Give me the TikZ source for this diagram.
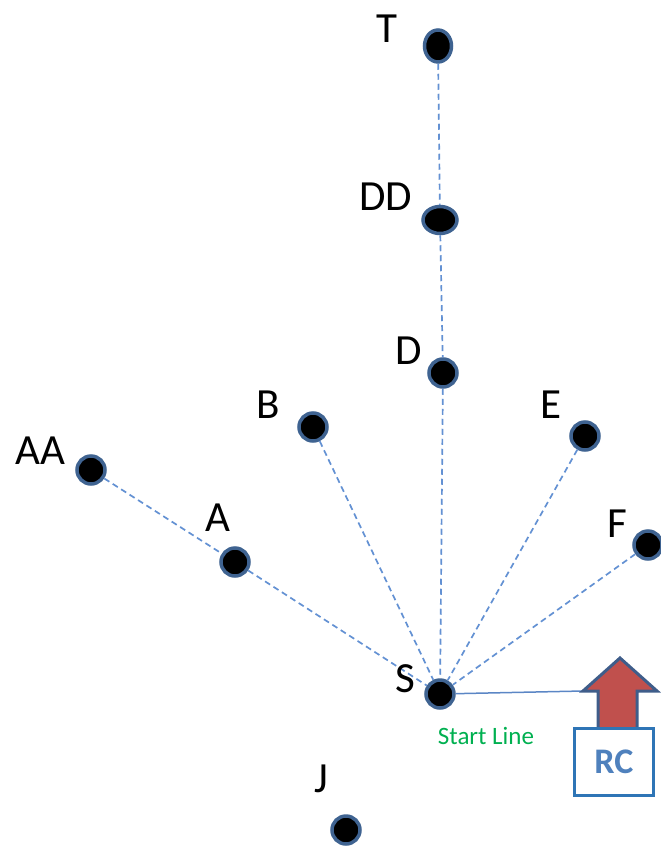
\documentclass[tikz,border=0pt]{standalone}
\usepackage{fontspec}
\setmainfont{Carlito}
\usetikzlibrary{shapes.geometric}
\definecolor{nodeborder}{HTML}{3F6391}
\definecolor{dashblue}{HTML}{6391D3}
\definecolor{lineblue}{HTML}{5B86C5}
\definecolor{startgreen}{HTML}{00B050}
\definecolor{arrowred}{HTML}{C0504D}
\definecolor{arrowborder}{HTML}{3F5D8A}
\definecolor{boxblue}{HTML}{2E75B6}
\definecolor{rctext}{HTML}{4F81BD}
\tikzset{
  pt/.style={circle, draw=nodeborder, fill=black, line width=3.5pt, minimum size=28pt, inner sep=0pt},
  ptel/.style={ellipse, draw=nodeborder, fill=black, line width=3.5pt, inner sep=0pt},
  lbl/.style={anchor=base, font=\fontsize{43}{48}\selectfont, inner sep=0pt},
  link/.style={draw=dashblue, line width=1.7pt, dash pattern=on 6pt off 4pt},
}
\begin{document}
\begin{tikzpicture}[x=1pt,y=-1pt]
\useasboundingbox (0,0) rectangle (661,852);
% nodes
\node[ptel, minimum width=27pt, minimum height=32pt] (T) at (438,46) {};
\node[ptel, minimum width=34pt, minimum height=27pt] (DD) at (440,220) {};
\node[pt] (D) at (443,373) {};
\node[pt] (B) at (313,427) {};
\node[pt] (E) at (585,436) {};
\node[pt] (AA) at (91,470) {};
\node[pt] (A) at (235,562) {};
\node[pt] (F) at (648,545) {};
\node[pt] (S) at (440,694) {};
\node[pt] (J) at (346,830) {};
% connectors
\draw[link] (T) -- (DD);
\draw[link] (DD) -- (D);
\draw[link] (D) -- (S);
\draw[link] (B) -- (S);
\draw[link] (E) -- (S);
\draw[link] (F) -- (S);
\draw[link] (A) -- (S);
\draw[link] (AA) -- (A);
% labels
\node[lbl] (lT) at (387,42) {T};
\node[lbl] (lDD) at (386,210) {DD};
\node[lbl] (lD) at (409,364) {D};
\node[lbl] (lB) at (268,418) {B};
\node[lbl] (lE) at (551,418) {E};
\node[lbl] (lAA) at (40,464) {AA};
\node[lbl] (lA) at (218,531) {A};
\node[lbl] (lF) at (617,537) {F};
\node[lbl] (lS) at (405,692) {S};
\node[lbl] (lJ) at (321,792) {J};
% start line and arrow
\coordinate (ahL) at (583,691);
\draw[draw=lineblue, line width=1.5pt] (S) -- (ahL);
\node[anchor=base, text=startgreen, font=\fontsize{25}{30}\selectfont, inner sep=0pt] (sl) at (486,744) {Start Line};
\draw[fill=arrowred, draw=arrowborder, line width=3pt, line join=miter]
  (620,658) -- (657,691) -- (637,691) -- (637,730) -- (598,730) -- (598,691) -- (583,691) -- cycle;
\node[draw=boxblue, fill=white, line width=2.5pt, minimum width=79pt, minimum height=67pt, inner sep=0pt,
  text=rctext, font=\fontsize{36}{40}\selectfont\bfseries] (RC) at (614,762) {RC};
\end{tikzpicture}
\end{document}
